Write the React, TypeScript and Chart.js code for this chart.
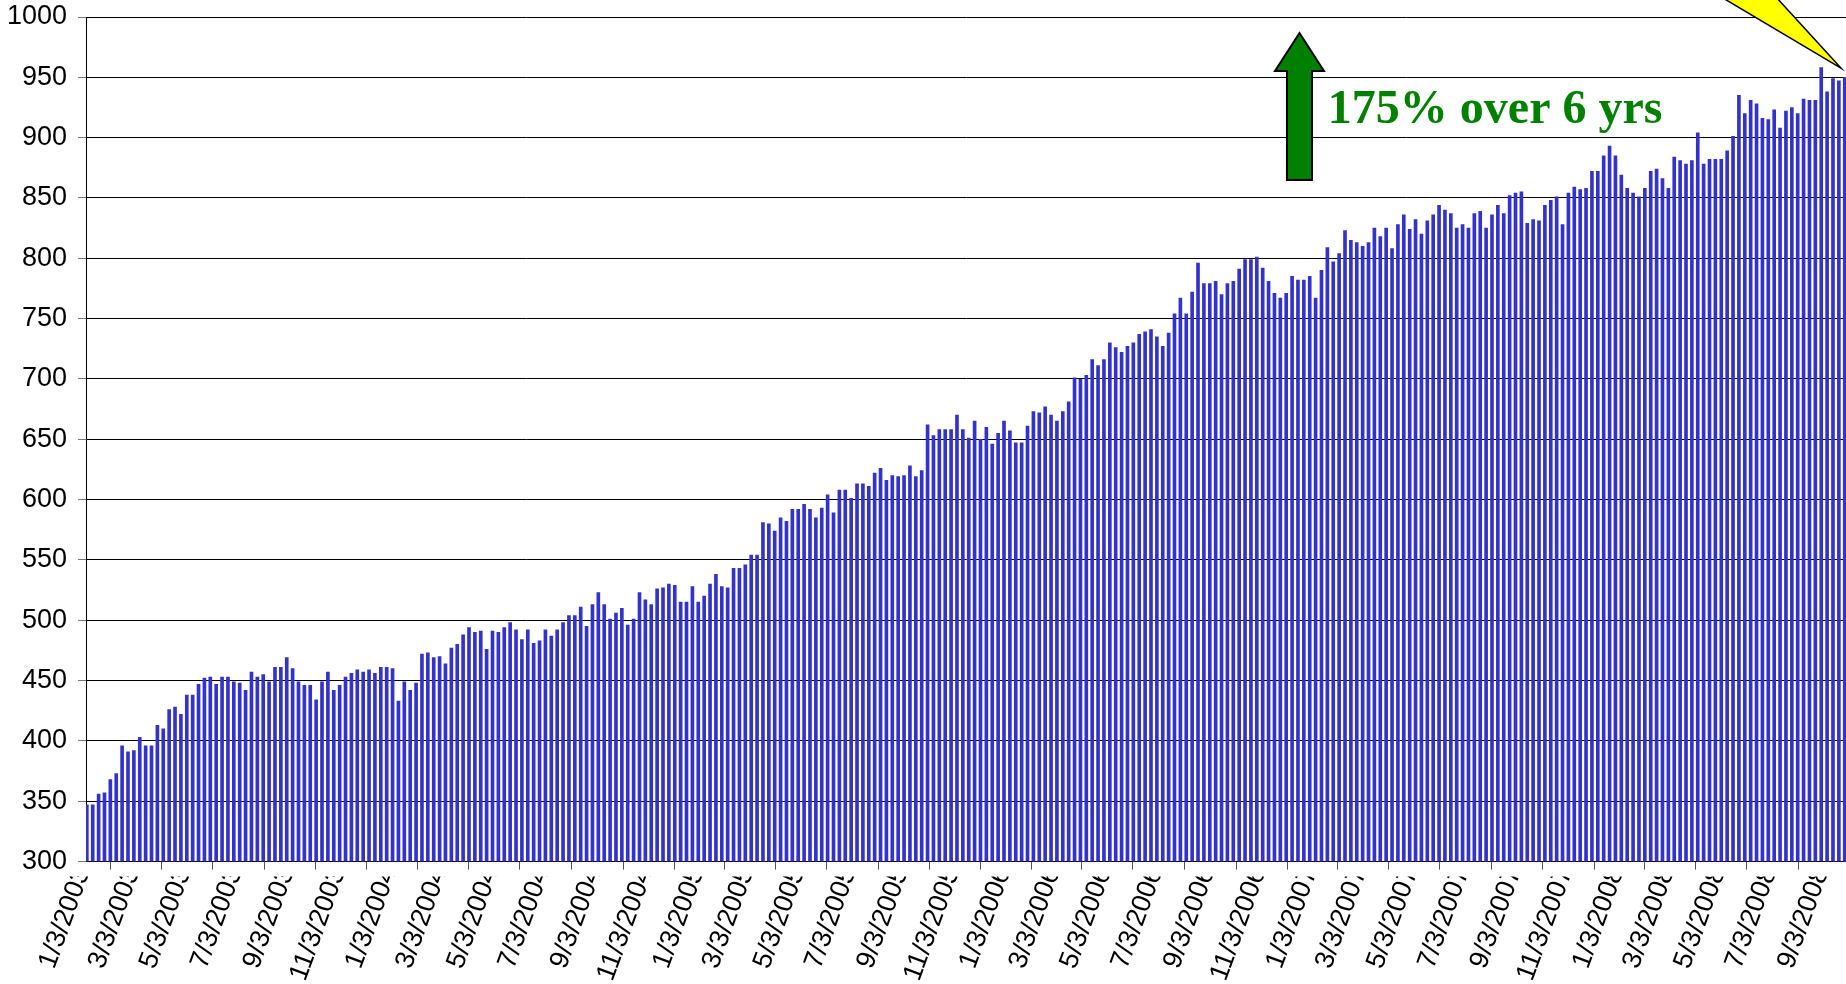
import React, { useEffect, useRef } from "react";
import { Chart, registerables } from "chart.js";

Chart.register(...registerables);

// ---------- data ----------
const AXIS_START = "1/3/2003"; // left edge of the date axis
const FIRST_WEEK = "1/4/2003"; // date of the first weekly bar
const AXIS_END_DAYS = 2095.5;

const values2003 = [347, 347, 356, 357, 368, 373, 396, 391, 392, 403, 396, 396, 413, 410, 426, 428, 422, 438, 438, 447, 452, 453, 447, 453, 453, 449, 448, 442, 457, 453, 455, 449, 461, 461, 469, 460, 449, 446, 446, 434, 449, 457, 442, 446, 453, 456, 459, 457, 459, 456, 461, 461];
const values2004 = [460, 433, 449, 442, 448, 472, 473, 469, 470, 464, 477, 480, 488, 494, 490, 491, 476, 491, 490, 494, 498, 492, 484, 492, 481, 483, 492, 487, 492, 498, 504, 504, 511, 495, 513, 523, 513, 501, 506, 510, 496, 501, 523, 517, 513, 526, 527, 530, 529, 515, 515, 528];
const values2005 = [515, 520, 530, 538, 528, 527, 543, 543, 546, 554, 554, 581, 580, 574, 585, 582, 592, 592, 596, 592, 585, 593, 604, 589, 608, 608, 601, 613, 613, 611, 622, 626, 616, 620, 619, 620, 628, 619, 624, 662, 653, 658, 658, 658, 670, 658, 651, 665, 650, 660, 646, 655, 665];
const values2006 = [657, 647, 647, 661, 673, 672, 677, 670, 665, 673, 681, 701, 700, 703, 716, 711, 716, 730, 726, 722, 727, 730, 737, 739, 741, 735, 727, 738, 754, 767, 754, 772, 796, 779, 779, 781, 770, 779, 781, 791, 799, 799, 801, 792, 781, 771, 767, 771, 785, 782, 782, 785];
const values2007 = [767, 790, 809, 797, 804, 823, 815, 813, 810, 813, 825, 818, 825, 808, 828, 836, 824, 832, 820, 831, 836, 844, 840, 837, 825, 828, 825, 837, 839, 825, 836, 844, 837, 852, 854, 855, 829, 832, 831, 844, 848, 851, 828, 854, 859, 857, 858, 872, 872, 885, 893, 885];
const values2008 = [869, 858, 854, 851, 858, 872, 874, 866, 858, 884, 881, 878, 881, 904, 878, 882, 882, 882, 889, 901, 935, 920, 931, 928, 916, 915, 923, 908, 922, 925, 920, 932, 931, 931, 958, 938, 949, 947, 950];

const TICK_LABELS = [
  "1/3/2003", "3/3/2003", "5/3/2003", "7/3/2003", "9/3/2003", "11/3/2003",
  "1/3/2004", "3/3/2004", "5/3/2004", "7/3/2004", "9/3/2004", "11/3/2004",
  "1/3/2005", "3/3/2005", "5/3/2005", "7/3/2005", "9/3/2005", "11/3/2005",
  "1/3/2006", "3/3/2006", "5/3/2006", "7/3/2006", "9/3/2006", "11/3/2006",
  "1/3/2007", "3/3/2007", "5/3/2007", "7/3/2007", "9/3/2007", "11/3/2007",
  "1/3/2008", "3/3/2008", "5/3/2008", "7/3/2008", "9/3/2008",
];

const Y_MIN = 300;
const Y_MAX = 1000;
const Y_STEP = 50;

const ANNOTATION_TEXT = "175% over 6 yrs";

// ---------- helpers ----------
const DAY = 86400000;
function parseDate(s: string) {
  const [m, d, y] = s.split("/").map(Number);
  return Date.UTC(y, m - 1, d);
}
const dayOf = (s: string) => (parseDate(s) - parseDate(AXIS_START)) / DAY;

const allValues = [...values2003, ...values2004, ...values2005, ...values2006, ...values2007, ...values2008];
const firstDay = dayOf(FIRST_WEEK);
const barData = allValues.map((v, i) => ({ x: firstDay + i * 7, y: v }));
const tickDays = TICK_LABELS.map(dayOf);

const W = 1846;
const H = 984;
const FONT = '"Liberation Sans", Arial, sans-serif';

const xLabelPlugin = {
  id: "xLabels",
  afterDraw(chart: any) {
    const ctx = chart.ctx;
    const xs = chart.scales.x;
    const area = chart.chartArea;
    ctx.save();
    ctx.beginPath();
    ctx.rect(0, area.bottom + 15, chart.width, chart.height);
    ctx.clip();
    ctx.font = "27px " + FONT;
    ctx.fillStyle = "#000";
    ctx.textAlign = "right";
    ctx.textBaseline = "middle";
    TICK_LABELS.forEach((lab, i) => {
      const x = xs.getPixelForValue(tickDays[i]);
      ctx.save();
      ctx.translate(x - 3, area.bottom + 7);
      ctx.rotate((-70 * Math.PI) / 180);
      ctx.fillText(lab, 0, 0);
      ctx.restore();
    });
    ctx.restore();
  },
};

const annotationPlugin = {
  id: "annotations",
  afterDraw(chart: any) {
    const ctx = chart.ctx;
    const xs = chart.scales.x;
    const ys = chart.scales.y;

    // green arrow
    const ax = xs.getPixelForValue(1444.8);
    const tipY = ys.getPixelForValue(986.7);
    const headY = ys.getPixelForValue(955.2);
    const botY = ys.getPixelForValue(864.9);
    const hw = 24.5;
    const sw = 12.5;
    ctx.save();
    ctx.beginPath();
    ctx.moveTo(ax, tipY);
    ctx.lineTo(ax + hw, headY);
    ctx.lineTo(ax + sw, headY);
    ctx.lineTo(ax + sw, botY);
    ctx.lineTo(ax - sw, botY);
    ctx.lineTo(ax - sw, headY);
    ctx.lineTo(ax - hw, headY);
    ctx.closePath();
    ctx.fillStyle = "#008000";
    ctx.fill();
    ctx.lineWidth = 2;
    ctx.strokeStyle = "#000";
    ctx.stroke();

    // text
    ctx.font = 'bold 48px "Liberation Serif", "Times New Roman", serif';
    ctx.fillStyle = "#008000";
    ctx.textAlign = "left";
    ctx.textBaseline = "alphabetic";
    ctx.fillText(ANNOTATION_TEXT, xs.getPixelForValue(1478.6), ys.getPixelForValue(911.8));

    // yellow callout wedge
    const tip = { x: xs.getPixelForValue(2090), y: ys.getPixelForValue(957.4) };
    const topV = 1014;
    const l0 = { x: xs.getPixelForValue(1953.2), y: ys.getPixelForValue(topV) };
    const r0 = { x: xs.getPixelForValue(2015.5), y: ys.getPixelForValue(topV) };
    const ext = (p: any) => {
      const k = (tip.y + 30) / (tip.y - p.y);
      return { x: tip.x + (p.x - tip.x) * k, y: tip.y + (p.y - tip.y) * k };
    };
    const l1 = ext(l0);
    const r1 = ext(r0);
    ctx.beginPath();
    ctx.moveTo(tip.x, tip.y);
    ctx.lineTo(l1.x, l1.y);
    ctx.lineTo(r1.x, r1.y);
    ctx.closePath();
    ctx.fillStyle = "#ffff00";
    ctx.fill();
    ctx.lineWidth = 1.5;
    ctx.strokeStyle = "#000";
    ctx.stroke();
    ctx.restore();
  },
};

export default function App() {
  const ref = useRef<HTMLCanvasElement | null>(null);

  useEffect(() => {
    if (!ref.current) return;
    const chart = new Chart(ref.current, {
      type: "bar",
      data: {
        datasets: [
          {
            data: barData as any,
            backgroundColor: "#3333cc",
            borderWidth: 0,
            barThickness: 3,
          },
        ],
      },
      options: {
        animation: false,
        responsive: false,
        events: [],
        layout: { padding: { top: 17, right: 0, left: 0, bottom: 0 } },
        plugins: { legend: { display: false }, tooltip: { enabled: false } },
        scales: {
          x: {
            type: "linear",
            min: 0,
            max: AXIS_END_DAYS,
            offset: false,
            afterBuildTicks: (scale: any) => {
              scale.ticks = tickDays.map((v) => ({ value: v }));
            },
            afterFit: (scale: any) => {
              scale.height = 122.4;
              scale.paddingLeft = 0;
              scale.paddingRight = 0;
            },
            ticks: { display: false },
            grid: {
              display: true,
              drawOnChartArea: false,
              drawTicks: true,
              tickLength: 8,
              tickColor: "#555",
            },
            border: { display: true, color: "#000", width: 1 },
          },
          y: {
            type: "linear",
            min: Y_MIN,
            max: Y_MAX,
            afterFit: (scale: any) => {
              scale.width = 86;
              scale.paddingTop = 0;
              scale.paddingBottom = 0;
            },
            ticks: {
              stepSize: Y_STEP,
              padding: 11,
              color: "#000",
              font: { family: FONT, size: 27 },
              callback: (v: any) => String(v),
            },
            grid: {
              color: "#000",
              lineWidth: 1,
              tickLength: 8,
              tickColor: "#777",
            },
            border: { display: true, color: "#000", width: 1 },
          },
        },
      },
      plugins: [xLabelPlugin, annotationPlugin],
    });
    return () => chart.destroy();
  }, []);

  return (
    <div style={{ position: "absolute", left: 0, top: 0, width: W, height: H, background: "#fff", overflow: "hidden" }}>
      <canvas ref={ref} width={W} height={H} style={{ display: "block", width: W, height: H }} />
    </div>
  );
}
